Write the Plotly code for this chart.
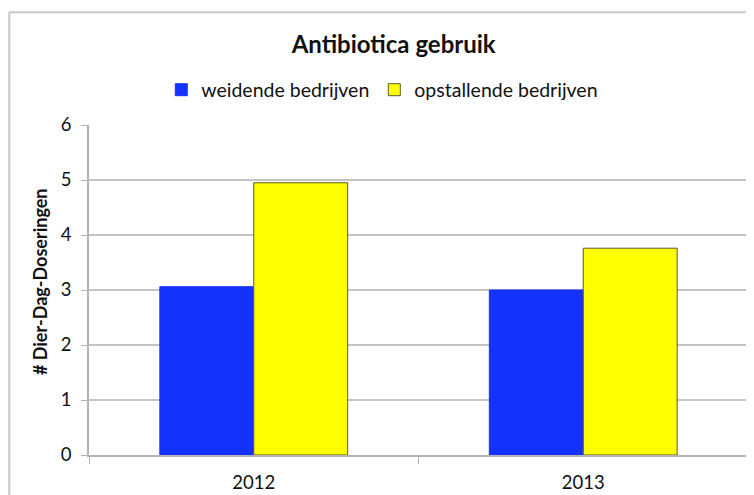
import plotly.graph_objects as go

years = ["2012", "2013"]
weidende = [3.06, 3.0]
opstallende = [4.95, 3.76]
series_names = ["weidende bedrijven", "opstallende bedrijven"]
y_ticks = [0, 1, 2, 3, 4, 5, 6]
y_title = "# Dier-Dag-Doseringen"
chart_title = "Antibiotica gebruik"

FONT = "Lato, 'Open Sans', sans-serif"

fig = go.Figure()
fig.add_trace(go.Bar(x=years, y=weidende, name=series_names[0],
                     marker=dict(color="#1433ff", line=dict(color="#1433ff", width=1))))
fig.add_trace(go.Bar(x=years, y=opstallende, name=series_names[1],
                     marker=dict(color="#ffff00", line=dict(color="#5a5a28", width=1))))

fig.update_layout(
    width=746, height=487,
    margin=dict(l=81, r=6, t=117, b=40, autoexpand=False),
    paper_bgcolor="white", plot_bgcolor="white",
    font=dict(family=FONT, size=18, color="#111"),
    barmode="group", bargap=0.43, bargroupgap=0,
    title=dict(text="<b>" + chart_title + "</b>", x=0.517, y=0.924,
               xanchor="center", yanchor="middle",
               font=dict(family=FONT, size=24, color="#111")),
    legend=dict(orientation="h", x=0.445, y=1.106, xanchor="center", yanchor="middle",
                font=dict(family=FONT, size=19.5, color="#111"),
                traceorder="normal", itemwidth=30),
    showlegend=True,
    shapes=[
        dict(type="line", xref="paper", yref="paper", x0=-0.121, x1=1.02, y0=1.342, y1=1.342,
             line=dict(color="#c8c8c8", width=2)),
        dict(type="line", xref="paper", yref="paper", x0=-0.121, x1=-0.121, y0=1.342, y1=-0.2,
             line=dict(color="#c8c8c8", width=2)),
    ],
    annotations=[
        dict(text="<b>" + y_title + "</b>", xref="paper", yref="paper",
             x=-0.0744, y=0.527, xanchor="center", yanchor="middle",
             textangle=-90, showarrow=False, font=dict(family=FONT, size=18, color="#111")),
    ],
)

fig.update_xaxes(showline=True, linecolor="#b4b4b4", linewidth=1.5,
                 ticks="outside", tickson="boundaries", ticklen=7, tickcolor="#b4b4b4",
                 showgrid=False, tickfont=dict(size=18.5), ticklabelstandoff=10,
                 automargin=False)
fig.update_yaxes(range=[0, 6], tickvals=y_ticks, showline=True, linecolor="#b4b4b4", linewidth=1.5,
                 ticks="outside", ticklen=6, tickcolor="#b4b4b4",
                 showgrid=True, gridcolor="#c4c4c4", gridwidth=1.5, zeroline=False,
                 tickfont=dict(size=18.5), ticklabelstandoff=6, automargin=False)

fig.write_html("out.html")
